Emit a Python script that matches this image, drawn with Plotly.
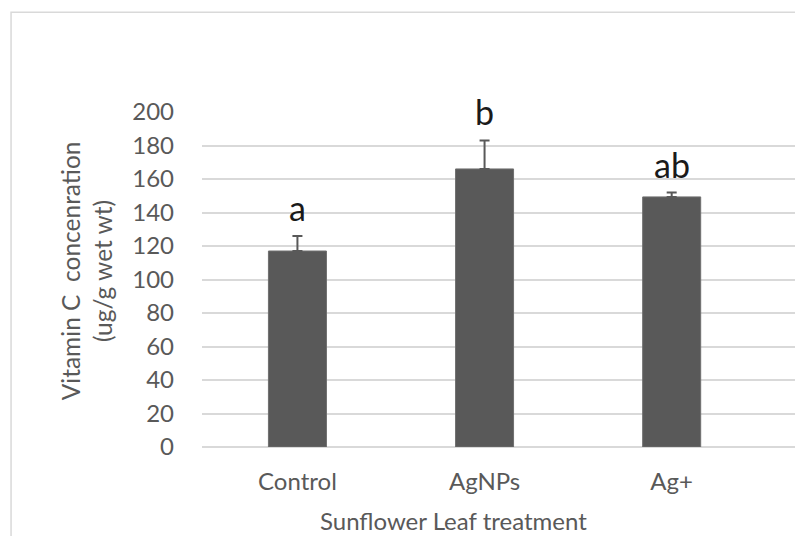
import plotly.graph_objects as go

# Vitamin C content of sunflower leaves by treatment
treatments = ["Control", "AgNPs", "Ag+"]
vitamin_c = [117, 166, 149.3]
err_plus = [9, 17, 2.6]
sig_letters = ["a", "b", "ab"]
y_ticks = [0, 20, 40, 60, 80, 100, 120, 140, 160, 180, 200]

TXT = "#595959"
GRID = "#d9d9d9"
FONT = "Lato, 'Open Sans', sans-serif"

fig = go.Figure()
fig.add_trace(go.Bar(
    x=treatments,
    y=vitamin_c,
    width=0.31,
    marker=dict(color="#595959", line=dict(color="#6f6f6f", width=1)),
    error_y=dict(type="data", array=err_plus, arrayminus=[0] * len(err_plus),
                 symmetric=False, color="#595959", thickness=2, width=5),
    showlegend=False,
))

# significance letters above the error bars
for t, v, e, s in zip(treatments, vitamin_c, err_plus, sig_letters):
    fig.add_annotation(x=t, y=v + e, text=s, showarrow=False,
                       yanchor="bottom", yshift=6,
                       font=dict(family=FONT, size=34, color="#1a1a1a"))

# axis titles
fig.add_annotation(xref="paper", yref="paper", x=-0.1956, y=0.5245,
                   text="Vitamin C  concenration<br>(ug/g wet wt)",
                   textangle=-90, showarrow=False, xanchor="center", yanchor="middle",
                   font=dict(family=FONT, size=24.5, color=TXT))
fig.add_annotation(xref="paper", yref="paper", x=0.4233, y=-0.2188,
                   text="Sunflower Leaf treatment", showarrow=False,
                   xanchor="center", yanchor="middle",
                   font=dict(family=FONT, size=24, color=TXT))

# chart border
fig.add_shape(type="rect", xref="paper", yref="paper",
              x0=-0.322, y0=-0.6, x1=1.2, y1=1.2976,
              line=dict(color=GRID, width=1.5), fillcolor="rgba(0,0,0,0)", layer="below")

fig.update_layout(
    width=795, height=536,
    margin=dict(l=202, r=0, t=112, b=89),
    paper_bgcolor="white", plot_bgcolor="white",
    font=dict(family=FONT, size=24, color=TXT),
    xaxis=dict(range=[-0.51, 2.659], showgrid=False, showline=False,
               zeroline=False, ticks="", ticklabelstandoff=18,
               tickfont=dict(size=24, color=TXT)),
    yaxis=dict(range=[0, 200], tickvals=y_ticks, showgrid=True, gridcolor=GRID,
               gridwidth=1.5, zeroline=True, zerolinecolor=GRID, zerolinewidth=1.5,
               showline=False, ticks="", ticklabelstandoff=27,
               tickfont=dict(size=24, color=TXT)),
)

fig.write_html("out.html")
